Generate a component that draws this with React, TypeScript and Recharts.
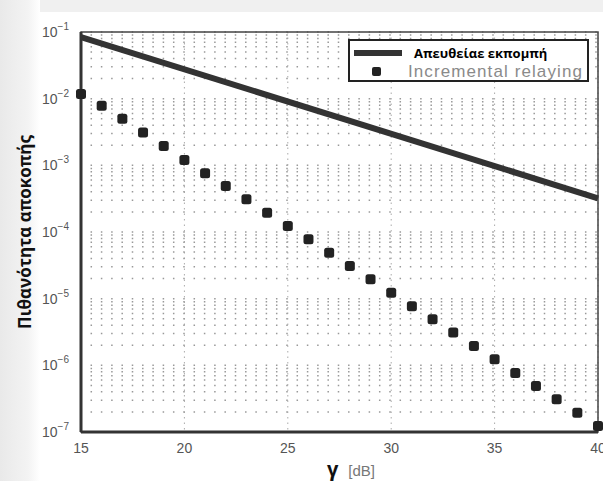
import { ComposedChart, Line, Scatter, XAxis, YAxis, CartesianGrid, ReferenceArea, Legend } from "recharts";

// SNR axis (dB)
const snrDb = [15, 16, 17, 18, 19, 20, 21, 22, 23, 24, 25, 26, 27, 28, 29, 30, 31, 32, 33, 34, 35, 36, 37, 38, 39, 40];

// direct transmission: straight line on the log plot, two end points
const directSnr = [15, 40];
const directOutage = [0.084, 3.2e-4];

// incremental relaying markers
const relayOutage = [
  1.17e-2, 7.8e-3, 5e-3, 3.1e-3, 1.95e-3, 1.2e-3, 7.6e-4, 4.9e-4, 3.1e-4, 1.95e-4,
  1.23e-4, 7.8e-5, 4.9e-5, 3.1e-5, 1.95e-5, 1.23e-5, 7.7e-6, 4.9e-6, 3.1e-6, 1.95e-6,
  1.23e-6, 7.7e-7, 4.9e-7, 3.1e-7, 1.95e-7, 1.23e-7,
];

const xLabels = [15, 20, 25, 30, 35, 40];
const yExponents = [-7, -6, -5, -4, -3, -2, -1];

const xGridTicks: number[] = [];
for (let v = 15; v <= 40; v += 0.5) xGridTicks.push(v);

const yGridTicks: number[] = [];
yExponents.forEach((e) => {
  yGridTicks.push(Math.pow(10, e));
  if (e < -1) for (let m = 2; m <= 9; m++) yGridTicks.push(m * Math.pow(10, e));
});

const rows = snrDb.map((x, i) => {
  const k = directSnr.indexOf(x);
  return { x, relay: relayOutage[i], direct: k >= 0 ? directOutage[k] : undefined };
});

const tickFont = "'Liberation Sans', Arial, sans-serif";

const XTick = ({ x, y, payload }: any) => {
  if (!xLabels.includes(payload.value)) return null;
  return (
    <text x={x} y={y + 13} textAnchor="middle" fontFamily={tickFont} fontSize={14} fill="#555">
      {payload.value}
    </text>
  );
};

const YTick = ({ x, y, payload }: any) => {
  const e = Math.round(Math.log10(payload.value));
  if (Math.abs(Math.log10(payload.value) - e) > 1e-6) return null;
  return (
    <text x={x - 4} y={y + 5} textAnchor="end" fontFamily={tickFont} fontSize={14} fill="#555">
      <tspan>10</tspan>
      <tspan dy={-7} fontSize={10}>{"\u2212" + -e}</tspan>
    </text>
  );
};

const Square = (p: any) => (
  <rect x={p.cx - 5} y={p.cy - 5} width={10} height={10} rx={2.5} fill="#222" />
);

const LegendBox = () => (
  <div style={{ border: "2px solid #222", background: "#fff", height: 43, boxSizing: "border-box", padding: "2px 4px" }}>
    <div style={{ display: "flex", alignItems: "center", height: 19 }}>
      <div style={{ width: 48, height: 6, background: "#333" }} />
      <span style={{ marginLeft: 12, fontFamily: "'Open Sans', sans-serif", fontWeight: 700, fontSize: 13, color: "#000", whiteSpace: "nowrap" }}>
        Απευθείαε εκπομπή
      </span>
    </div>
    <div style={{ display: "flex", alignItems: "center", height: 19 }}>
      <div style={{ width: 48, display: "flex", justifyContent: "center" }}>
        <div style={{ width: 9, height: 9, borderRadius: 2, background: "#222" }} />
      </div>
      <span style={{ marginLeft: 9, fontFamily: tickFont, fontSize: 17, letterSpacing: 1.1, color: "#8a8a8a", whiteSpace: "nowrap" }}>
        Incremental relaying
      </span>
    </div>
  </div>
);

export default function App() {
  return (
    <div style={{ position: "absolute", left: 0, top: 0, width: 603, height: 481, background: "#fff", overflow: "hidden" }}>
      <div style={{ position: "absolute", left: 0, top: 0, width: 603, height: 12, background: "#f0f0f0" }} />
      <div style={{ position: "absolute", left: 0, top: 0, width: 40, height: 481, background: "linear-gradient(to right, #e9e9e9, #f3f3f3 70%, #fff)" }} />
      <ComposedChart width={603} height={481} data={rows} margin={{ top: 32, right: 5, bottom: 0, left: 0 }} style={{ position: "absolute", left: 0, top: 0 }}>
        <CartesianGrid horizontal={false} verticalValues={xLabels} stroke="#aaa" strokeDasharray="1.5 4" />
        <CartesianGrid
          vertical={false}
          horizontalValues={yGridTicks}
          stroke="#999"
          strokeWidth={1.5}
          strokeDasharray="1.5 8.8"
          strokeDashoffset={0.75}
        />
        <XAxis
          dataKey="x"
          type="number"
          domain={[15, 40]}
          ticks={xGridTicks}
          interval={0}
          tick={<XTick />}
          tickLine={false}
          axisLine={{ stroke: "#333", strokeWidth: 3 }}
          height={49}
          label={{
            content: () => (
              <text x={351} y={476} textAnchor="middle">
                <tspan fontFamily="'Open Sans', sans-serif" fontWeight={700} fontSize={20} fill="#111">γ</tspan>
                <tspan dx={10} fontFamily={tickFont} fontSize={15} fill="#777">[dB]</tspan>
              </text>
            ),
          }}
        />
        <YAxis
          type="number"
          scale="log"
          domain={[1e-7, 1e-1]}
          allowDataOverflow
          ticks={yGridTicks}
          interval={0}
          tick={<YTick />}
          tickLine={false}
          axisLine={{ stroke: "#333", strokeWidth: 3 }}
          width={81}
          label={{
            content: () => (
              <text
                x={24}
                y={232}
                transform="rotate(-90 24 232)"
                textAnchor="middle"
                dominantBaseline="central"
                fontFamily="'Open Sans', sans-serif"
                fontWeight={700}
                fontSize={17}
                fill="#111"
              >
                Πιθανότητα αποκοπής
              </text>
            ),
          }}
        />
        <ReferenceArea x1={15} x2={40} y1={1e-7} y2={1e-1} fill="none" stroke="#444" strokeWidth={1.5} />
        <Line dataKey="direct" stroke="#333" strokeWidth={6} dot={false} connectNulls isAnimationActive={false} />
        <Scatter dataKey="relay" shape={Square} isAnimationActive={false} />
        <Legend
          layout="horizontal"
          verticalAlign="middle"
          align="center"
          content={<LegendBox />}
          wrapperStyle={{ left: 348, top: 39, width: 241, height: 43 }}
        />
      </ComposedChart>
    </div>
  );
}
